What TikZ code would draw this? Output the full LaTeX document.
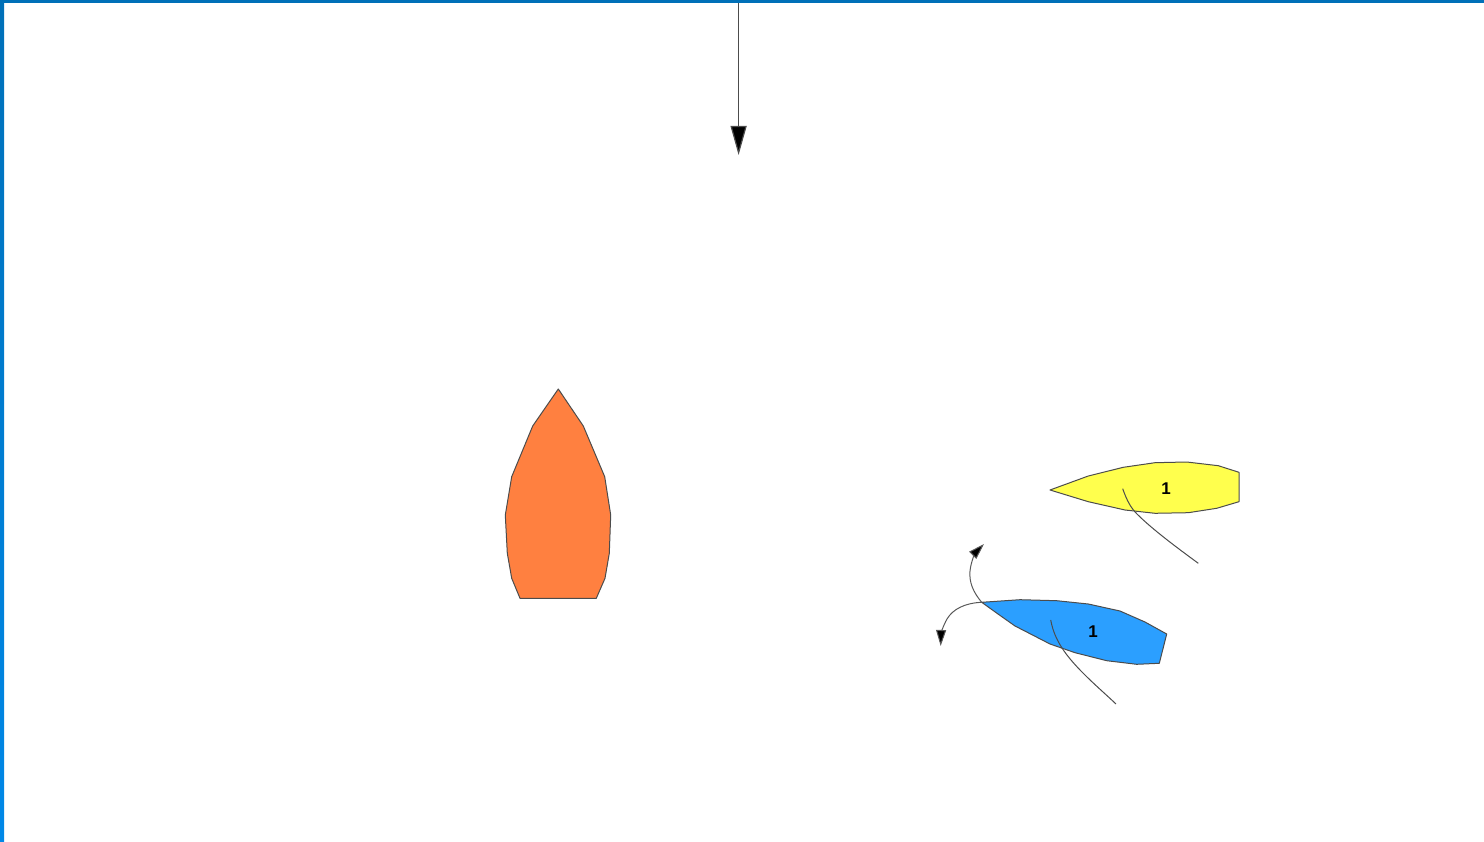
\documentclass[tikz,border=0pt]{standalone}
\usepackage{fontspec}
\setsansfont{Liberation Sans}
\usetikzlibrary{arrows.meta}
\definecolor{hullorange}{HTML}{FF8040}
\definecolor{hullyellow}{HTML}{FFFF4D}
\definecolor{hullblue}{HTML}{2B9FFF}
\definecolor{frametop}{HTML}{0070B8}
\definecolor{framebottom}{HTML}{0088E8}
\tikzset{
  hull/.style={draw=black!70,line width=1pt,line join=round},
  tiller/.style={draw=black!70,line width=1pt},
  turn/.style={draw=black!65,line width=1pt,-{Triangle[length=16pt,width=10pt,fill=black]}},
  wind/.style={draw=black!70,line width=1.2pt,-{Triangle[length=29pt,width=16pt,fill=black]}},
  sailno/.style={font=\sffamily\bfseries\fontsize{17}{17}\selectfont,inner sep=0pt}
}
\begin{document}
\begin{tikzpicture}[x=1pt,y=-1pt]
\useasboundingbox (0,0) rectangle (1484,842);
\def\boat#1#2{\fill[hull,fill=#1] #2 -- cycle;}
\shade[top color=frametop,bottom color=framebottom] (0,0) rectangle (4,842);
\fill[frametop] (0,0) rectangle (1484,3);
\coordinate (windtop) at (738.6,3);
\coordinate (windtip) at (738.6,155);
\draw[wind] (windtop) -- (windtip);
\boat{hullorange}{(558.3,389) -- (583.3,426) -- (604.7,476.7) -- (610.7,515) -- (609.3,553.3) -- (605,578.3) -- (596.3,598.3) -- (520,598.3) -- (511.7,578.3) -- (507.3,553.3) -- (505.3,515) -- (511.7,476.7) -- (532.7,426)}
\boat{hullyellow}{(1050,490) -- (1088.3,476) -- (1123.3,467.3) -- (1155,462.7) -- (1186.7,462) -- (1218.3,465.7) -- (1239,472.3) -- (1239,501.7) -- (1216.7,508.3) -- (1188.3,512.7) -- (1155,513.3) -- (1125,510) -- (1088.3,501.7)}
\boat{hullblue}{(981.7,602.3) -- (1020,599.7) -- (1056.7,600.7) -- (1088.3,604) -- (1120,611) -- (1145,622) -- (1166.7,634) -- (1159.3,663.3) -- (1136.7,664.3) -- (1106.7,660.7) -- (1075,652.7) -- (1050,644) -- (1015,626) -- (998,614)}
\node[sailno] (yellowno) at (1166,489) {1};
\node[sailno] (blueno) at (1093,631.5) {1};
\coordinate (yellowhelm) at (1122.7,488.7);
\coordinate (yellowend) at (1198.3,563.3);
\coordinate (bluehelm) at (1050.7,620);
\coordinate (blueend) at (1116,704);
\coordinate (bluebow) at (981.7,602.3);
\coordinate (upturn) at (984,544);
\coordinate (downturn) at (940.7,646);
\draw[tiller] (yellowhelm) .. controls (1127,501) and (1131,508) .. (1137,514) .. controls (1152,529) and (1176,547) .. (yellowend);
\draw[tiller] (bluehelm) .. controls (1053,632) and (1057,640) .. (1062,648) .. controls (1075,668) and (1098,687) .. (blueend);
\draw[turn] (bluebow) .. controls (973,592) and (969,582) .. (970,571) .. controls (971,561) and (976,552) .. (upturn);
\draw[turn] (bluebow) .. controls (965,603) and (953,609) .. (947,619) .. controls (943,626) and (941,634) .. (downturn);
\end{tikzpicture}
\end{document}
